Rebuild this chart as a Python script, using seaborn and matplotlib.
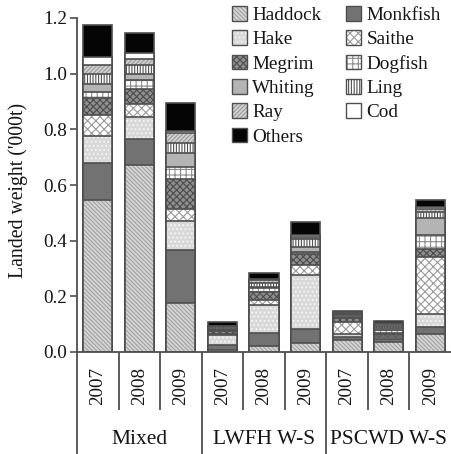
import numpy as np
import pandas as pd
import matplotlib
matplotlib.use("Agg")
import matplotlib.pyplot as plt
import seaborn as sns
from matplotlib.patches import Patch
from matplotlib.legend_handler import HandlerTuple

# ---------------- data ----------------
groups = ["Mixed", "LWFH W-S", "PSCWD W-S"]
years = ["2007", "2008", "2009"]
species = ["Haddock", "Monkfish", "Hake", "Saithe", "Megrim", "Dogfish",
           "Whiting", "Ling", "Ray", "Cod", "Others"]

# landed weight ('000 t), one value per bar: Mixed 07-09, LWFH 07-09, PSCWD 07-09
haddock  = [0.545, 0.673, 0.175, 0.008, 0.022, 0.033, 0.043, 0.037, 0.065]
monkfish = [0.133, 0.093, 0.191, 0.018, 0.045, 0.049, 0.012, 0.009, 0.026]
hake     = [0.097, 0.077, 0.106, 0.035, 0.102, 0.195, 0.010, 0.007, 0.046]
saithe   = [0.076, 0.048, 0.041, 0.004, 0.018, 0.036, 0.044, 0.007, 0.205]
megrim   = [0.060, 0.053, 0.110, 0.010, 0.030, 0.039, 0.012, 0.009, 0.027]
dogfish  = [0.024, 0.033, 0.041, 0.004, 0.012, 0.008, 0.006, 0.010, 0.051]
whiting  = [0.028, 0.022, 0.050, 0.004, 0.006, 0.018, 0.006, 0.007, 0.060]
ling     = [0.036, 0.031, 0.038, 0.006, 0.014, 0.027, 0.004, 0.007, 0.024]
ray      = [0.031, 0.024, 0.034, 0.003, 0.010, 0.007, 0.004, 0.006, 0.010]
cod      = [0.029, 0.019, 0.009, 0.002, 0.003, 0.008, 0.003, 0.004, 0.006]
others   = [0.116, 0.072, 0.098, 0.015, 0.023, 0.048, 0.004, 0.008, 0.026]

values = [haddock, monkfish, hake, saithe, megrim, dogfish,
          whiting, ling, ray, cod, others]

# ---------------- styles ----------------
# species: (facecolor, hatch, hatch colour)
styles = {
    "Haddock":  ("#d4d4d4", "\\\\\\\\\\\\\\\\", "#a2a2a2"),
    "Monkfish": ("#727272", "", "#727272"),
    "Hake":     ("#d9d9d9", "....", "#f6f6f6"),
    "Saithe":   ("#ffffff", "xxxx", "#9a9a9a"),
    "Megrim":   ("#8e8e8e", "xxxxx", "#4c4c4c"),
    "Dogfish":  ("#ffffff", "+++", "#8c8c8c"),
    "Whiting":  ("#b4b4b4", "", "#b4b4b4"),
    "Ling":     ("#ffffff", "||||||", "#505050"),
    "Ray":      ("#d0d0d0", "////////", "#9c9c9c"),
    "Cod":      ("#ffffff", "", "#ffffff"),
    "Others":   ("#050505", "", "#050505"),
}
edge_col = "#4e4e4e"
text_col = "#151515"

plt.rcParams["font.family"] = ["Liberation Serif", "DejaVu Serif"]
plt.rcParams["font.size"] = 13.8
plt.rcParams["hatch.linewidth"] = 0.8
plt.rcParams["text.color"] = text_col
plt.rcParams["axes.labelcolor"] = text_col
plt.rcParams["xtick.color"] = text_col
plt.rcParams["ytick.color"] = text_col

# ---------------- data frame ----------------
bar_keys = [f"{g} {y}" for g in groups for y in years]
df = pd.DataFrame({"bar": bar_keys})
cum = np.cumsum(np.array(values), axis=0)
for i, sp in enumerate(species):
    df[sp] = cum[i]

fig = plt.figure(figsize=(4.52, 4.54), dpi=100)
ax = fig.add_axes([77 / 452, (454 - 352) / 454, 374 / 452, 334 / 454])

# draw stacked bars: tallest cumulative layer first
for sp in reversed(species):
    fc, hatch, hc = styles[sp]
    n0 = len(ax.patches)
    sns.barplot(data=df, x="bar", y=sp, order=bar_keys, color=fc,
                saturation=1, width=0.7, ax=ax, linewidth=0,
                errorbar=None)
    for p in ax.patches[n0:]:
        p.set_facecolor(fc)
        p.set_edgecolor(hc)
        p.set_hatch(hatch)
        p.set_linewidth(0)
    sns.barplot(data=df, x="bar", y=sp, order=bar_keys, color=edge_col,
                fill=False, width=0.7, ax=ax, linewidth=1.2,
                errorbar=None)

ax.set_xlim(-0.5, len(bar_keys) - 0.5)
ax.set_ylim(0, 1.2)
ax.set_yticks(np.arange(0, 1.21, 0.2))
ax.set_yticklabels([f"{v:.1f}" for v in np.arange(0, 1.21, 0.2)])
ax.set_ylabel("Landed weight ('000t)", fontsize=14.2)
ax.yaxis.set_label_coords(-0.132, 0.485)
ax.set_xlabel("")
ax.set_xticks(range(len(bar_keys)))
ax.set_xticklabels(years * len(groups), rotation=90, va="top")
ax.tick_params(axis="x", length=0, pad=11)
ax.tick_params(axis="y", direction="out", length=5, width=1.2, color=edge_col, pad=2)

for s in ["top", "right"]:
    ax.spines[s].set_visible(False)
for s in ["left", "bottom"]:
    ax.spines[s].set_color(edge_col)
    ax.spines[s].set_linewidth(1.3)

# separators below the axis
trans = ax.get_xaxis_transform()
inner = [0.5, 1.5, 3.5, 4.5, 6.5, 7.5]
outer = [-0.5, 2.5, 5.5]
ax.vlines(inner, -0.174, 0, transform=trans, colors=edge_col, lw=1.3, clip_on=False)
ax.vlines(outer, -0.31, 0, transform=trans, colors=edge_col, lw=1.3, clip_on=False)
for gi, g in enumerate(groups):
    ax.text(gi * 3 + 1, -0.263, g, transform=trans, ha="center", va="center",
            fontsize=15.5)

# legend
handles = []
for sp in species:
    fc, hatch, hc = styles[sp]
    h1 = Patch(facecolor=fc, edgecolor=hc, hatch=hatch, linewidth=0)
    h2 = Patch(facecolor="none", edgecolor=edge_col, linewidth=1.0)
    handles.append((h1, h2))
col1 = ["Haddock", "Hake", "Megrim", "Whiting", "Ray", "Others"]
col2 = ["Monkfish", "Saithe", "Dogfish", "Ling", "Cod"]
order = col1 + col2
leg_handles = [handles[species.index(s)] for s in order]
fig.legend(leg_handles, order, ncol=2, loc="upper left",
           bbox_to_anchor=(232 / 452, 1 - 6 / 454), frameon=False,
           handler_map={tuple: HandlerTuple(ndivide=1)},
           handlelength=0.8, handleheight=0.8, handletextpad=0.25,
           labelspacing=0.33, columnspacing=1.3, borderpad=0, borderaxespad=0)

fig.savefig("out.png", dpi=100)
